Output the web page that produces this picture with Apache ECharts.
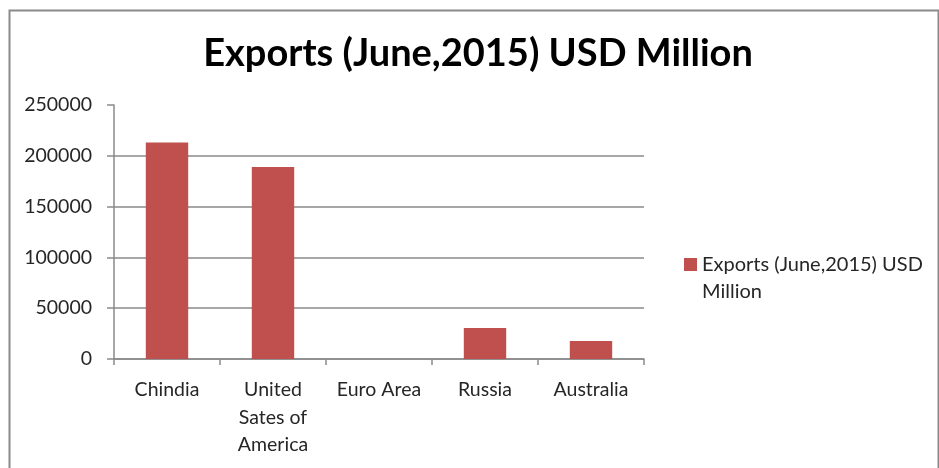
<!DOCTYPE html>
<html>
<head>
<meta charset="utf-8">
<script src="https://cdn.jsdelivr.net/npm/echarts@6/dist/echarts.min.js"></script>
<style>
  html, body { margin: 0; padding: 0; background: #fff; }
  #chart { width: 939px; height: 468px; }
</style>
</head>
<body>
<div id="chart"></div>
<script>
// Exports by economy, June 2015 (USD million)
const categories = ['Chindia', 'United\nSates of\nAmerica', 'Euro Area', 'Russia', 'Australia'];
const exportsValues = [213000, 189000, 0, 30500, 17600];
const seriesName = 'Exports (June,2015) USD Million';
const yTicks = [0, 50000, 100000, 150000, 200000, 250000];

const chart = echarts.init(document.getElementById('chart'), null, { renderer: 'canvas' });

const font = 'Lato, "Open Sans", sans-serif';
const gridColor = '#8a8a8a';

chart.setOption({
  animation: false,
  backgroundColor: '#ffffff',
  title: {
    text: 'Exports (June,2015) USD Million',
    left: 473,
    top: 30,
    textAlign: 'center',
    textStyle: { fontFamily: font, fontWeight: 'bold', fontSize: 38, color: '#000' }
  },
  legend: {
    data: [seriesName],
    orient: 'vertical',
    left: 679,
    top: 219,
    itemWidth: 13,
    itemHeight: 13,
    itemGap: 0,
    icon: 'rect',
    // blank first line keeps the marker level with the first text line
    formatter: () => ' \nExports (June,2015) USD\nMillion',
    textStyle: { fontFamily: font, fontSize: 20, color: '#262626', lineHeight: 27 }
  },
  grid: { left: 114, right: 295, top: 105, bottom: 109 },
  xAxis: {
    type: 'category',
    data: categories,
    axisLine: { lineStyle: { color: gridColor, width: 1.5 } },
    axisTick: { show: true, length: 6, lineStyle: { color: gridColor, width: 1.5 } },
    axisLabel: { fontFamily: font, fontSize: 19.5, color: '#262626', margin: 17, lineHeight: 27.5, interval: 0 }
  },
  yAxis: {
    type: 'value',
    min: 0,
    max: 250000,
    interval: 50000,
    axisLine: { show: true, lineStyle: { color: gridColor, width: 1.5 } },
    axisTick: { show: true, length: 7, lineStyle: { color: gridColor, width: 1.5 } },
    axisLabel: {
      fontFamily: font, fontSize: 19.5, color: '#262626', margin: 22,
      formatter: v => (yTicks.includes(v) ? String(v) : '')
    },
    splitLine: {
      show: true,
      lineStyle: { color: [gridColor, gridColor, gridColor, gridColor, gridColor, 'rgba(0,0,0,0)'], width: 1.5 }
    }
  },
  series: [{
    name: seriesName,
    type: 'bar',
    data: exportsValues,
    barWidth: '40%',
    itemStyle: { color: '#c0504d' }
  }],
  graphic: [{
    type: 'rect',
    left: 7,
    top: 8,
    shape: { width: 929, height: 480 },
    style: { fill: 'none', stroke: gridColor, lineWidth: 2 },
    silent: true,
    z: -1
  }]
});
</script>
</body>
</html>
